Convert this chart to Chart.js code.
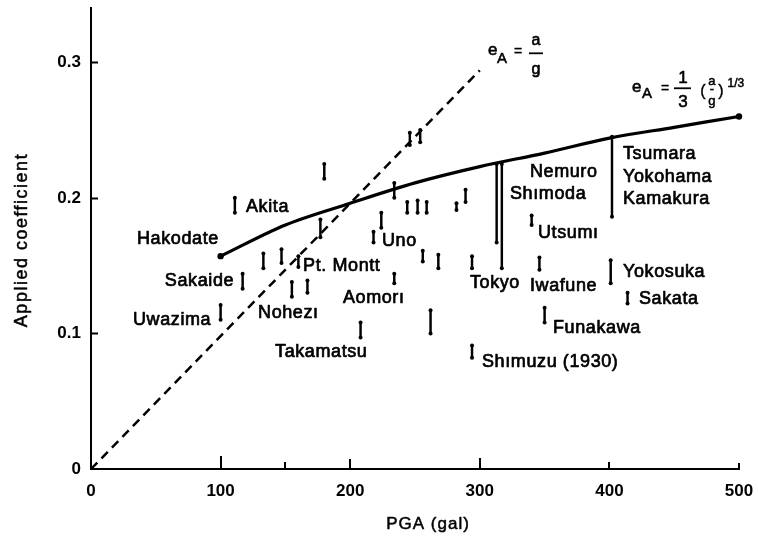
<!DOCTYPE html>
<html>
<head>
<meta charset="utf-8">
<script src="https://cdn.jsdelivr.net/npm/chart.js@4.4.1/dist/chart.umd.min.js"></script>
<style>
  html, body { margin: 0; padding: 0; background: #fff; }
  #wrap { width: 758px; height: 545px; position: relative; }
</style>
</head>
<body>
<div id="wrap"><canvas id="c" width="758" height="545"></canvas></div>
<script>
// ---- data ----
const xTickValues = [0, 100, 200, 300, 400, 500];
const xTickLabels = ['0', '100', '200', '300', '400', '500'];
const yTickValues = [0, 0.1, 0.2, 0.3];
const yTickLabels = ['0', '0.1', '0.2', '0.3'];

// solid curve e_A = 1/3 (a/g)^(1/3)
const curveX = [100, 150, 200, 250, 300, 350, 400, 450, 500];
const curveY = [0.157, 0.180, 0.196, 0.211, 0.223, 0.233, 0.244, 0.252, 0.260];

// dashed line e_A = a/g
const dashX = [0, 300];
const dashY = [0, 0.294];

// observed ranges (vertical bars): PGA, low, high
const rangeX  = [100, 111, 117, 133, 147, 155, 160, 167, 177, 180, 208, 218, 224, 234, 234, 244, 246, 252, 254, 256, 259, 262, 268, 282, 289, 294, 294, 313, 317, 340, 346, 350, 401, 402, 414];
const rangeLo = [0.110, 0.189, 0.133, 0.148, 0.152, 0.127, 0.149, 0.130, 0.171, 0.214, 0.097, 0.167, 0.178, 0.137, 0.200, 0.189, 0.239, 0.189, 0.241, 0.153, 0.189, 0.100, 0.148, 0.191, 0.197, 0.148, 0.082, 0.167, 0.148, 0.180, 0.147, 0.108, 0.137, 0.186, 0.122];
const rangeHi = [0.121, 0.200, 0.144, 0.159, 0.162, 0.138, 0.157, 0.139, 0.184, 0.225, 0.108, 0.175, 0.189, 0.144, 0.211, 0.197, 0.248, 0.198, 0.250, 0.161, 0.197, 0.117, 0.158, 0.196, 0.206, 0.157, 0.091, 0.225, 0.225, 0.187, 0.156, 0.119, 0.154, 0.245, 0.130];

// site names and their anchor (data coordinates: left edge, vertical middle)
const siteNames = ['Hakodate', 'Akita', 'Sakaide', 'Uwazima', 'Pt. Montt', 'Nohezı', 'Uno', 'Aomorı', 'Takamatsu', 'Tokyo', 'Iwafune', 'Shımuzu (1930)', 'Funakawa', 'Utsumı', 'Yokosuka', 'Sakata', 'Nemuro', 'Shımoda', 'Tsumara', 'Yokohama', 'Kamakura'];
const siteX = [35.5, 119.6, 57, 32.4, 163.6, 128.9, 224.5, 194.4, 142, 292.4, 338.7, 301.7, 356.5, 344.9, 410.5, 422.8, 338.7, 323.3, 410.5, 410.5, 410.5];
const siteY = [0.1695, 0.193, 0.139, 0.110, 0.150, 0.115, 0.168, 0.126, 0.086, 0.137, 0.135, 0.079, 0.104, 0.174, 0.145, 0.125, 0.219, 0.203, 0.232, 0.215, 0.199];

// formula anchors (data coordinates)
const formula1At = [306.3, 0.3088];
const formula2At = [417.4, 0.2808];

const xTitle = 'PGA (gal)';
const yTitle = 'Applied coefficient';

// ---- build datasets ----
const FONT = '"Liberation Sans", Arial, sans-serif';
Chart.defaults.font.family = FONT;
Chart.defaults.color = '#000';

const rangeData = rangeX.map((x, i) => ({ x: x, y: [rangeLo[i], rangeHi[i]] }));
const capData = [];
rangeX.forEach((x, i) => { capData.push({ x: x, y: rangeLo[i] }); capData.push({ x: x, y: rangeHi[i] }); });
const curveData = curveX.map((x, i) => ({ x: x, y: curveY[i] }));
const dashData = dashX.map((x, i) => ({ x: x, y: dashY[i] }));

function heavyText(ctx, t, x, y, w) {
  ctx.lineWidth = w;
  ctx.strokeText(t, x, y);
  ctx.fillText(t, x, y);
}

const overlay = {
  id: 'overlay',
  afterDraw(chart) {
    const { ctx, scales: { x, y }, chartArea } = chart;
    ctx.save();
    ctx.strokeStyle = '#000';
    ctx.fillStyle = '#000';
    ctx.lineJoin = 'round';
    // inward tick marks
    ctx.lineWidth = 2;
    [0.1, 0.2, 0.3].forEach(v => {
      const py = Math.round(y.getPixelForValue(v)) + 0.5;
      ctx.beginPath(); ctx.moveTo(chartArea.left, py); ctx.lineTo(chartArea.left + 7, py); ctx.stroke();
    });
    const xt = { 100: 13, 150: 7, 200: 10, 300: 11, 400: 7, 500: 6 };
    Object.keys(xt).forEach(k => {
      const px = Math.round(x.getPixelForValue(+k));
      ctx.beginPath(); ctx.moveTo(px, chartArea.bottom); ctx.lineTo(px, chartArea.bottom - xt[k]); ctx.stroke();
    });

    // site labels
    ctx.font = '18px ' + FONT;
    ctx.letterSpacing = '0.6px';
    ctx.textAlign = 'left';
    ctx.textBaseline = 'middle';
    siteNames.forEach((t, i) => heavyText(ctx, t, x.getPixelForValue(siteX[i]), y.getPixelForValue(siteY[i]), 0.7));

    // formula 1: e_A = a/g
    ctx.letterSpacing = '0px';
    ctx.textBaseline = 'alphabetic';
    let ax = x.getPixelForValue(formula1At[0]), ay = y.getPixelForValue(formula1At[1]);
    ctx.font = '17px ' + FONT; heavyText(ctx, 'e', ax, ay + 5, 0.6);
    ctx.font = '15px ' + FONT; heavyText(ctx, 'A', ax + 9, ay + 13, 0.6);
    ctx.font = '14px ' + FONT; heavyText(ctx, '=', ax + 26, ay + 6, 0.4);
    ctx.textAlign = 'center';
    ctx.font = '16px ' + FONT; heavyText(ctx, 'a', ax + 48, ay - 5, 0.6);
    ctx.lineWidth = 1.8;
    ctx.beginPath(); ctx.moveTo(ax + 41, ay + 3); ctx.lineTo(ax + 55, ay + 3); ctx.stroke();
    heavyText(ctx, 'g', ax + 48, ay + 24, 0.6);

    // formula 2: e_A = 1/3 (a/g)^(1/3)
    ctx.textAlign = 'left';
    ax = x.getPixelForValue(formula2At[0]); ay = y.getPixelForValue(formula2At[1]);
    ctx.font = '17px ' + FONT; heavyText(ctx, 'e', ax, ay + 4, 0.6);
    ctx.font = '15px ' + FONT; heavyText(ctx, 'A', ax + 10, ay + 10, 0.6);
    ctx.font = '14px ' + FONT; heavyText(ctx, '=', ax + 29, ay + 5, 0.4);
    ctx.textAlign = 'center';
    ctx.font = '17px ' + FONT;
    heavyText(ctx, '1', ax + 51, ay - 5, 0.6);
    ctx.lineWidth = 1.8;
    ctx.beginPath(); ctx.moveTo(ax + 42, ay + 0); ctx.lineTo(ax + 59, ay + 0); ctx.stroke();
    heavyText(ctx, '3', ax + 51, ay + 19, 0.6);
    ctx.font = '16px ' + FONT;
    heavyText(ctx, '(', ax + 71, ay + 8, 0.4);
    heavyText(ctx, ')', ax + 89, ay + 8, 0.4);
    ctx.font = '13px ' + FONT;
    heavyText(ctx, 'a', ax + 80, ay - 3, 0.5);
    heavyText(ctx, '-', ax + 80, ay + 5, 0.5);
    heavyText(ctx, 'g', ax + 80, ay + 17, 0.5);
    ctx.font = '12px ' + FONT;
    heavyText(ctx, '1/3', ax + 104, ay - 1, 0.5);

    // axis titles
    ctx.font = '18px ' + FONT;
    ctx.letterSpacing = '1.5px';
    ctx.textAlign = 'center';
    ctx.textBaseline = 'middle';
    ctx.save();
    ctx.translate(22, 240);
    ctx.rotate(-Math.PI / 2);
    heavyText(ctx, yTitle, 0, 0, 0.5);
    ctx.restore();
    ctx.font = '17px ' + FONT;
    ctx.letterSpacing = '1px';
    heavyText(ctx, xTitle, 428, 524, 0.5);
    ctx.restore();
  }
};

new Chart(document.getElementById('c'), {
  type: 'line',
  data: {
    datasets: [
      {
        type: 'line', data: dashData, borderColor: '#000', borderWidth: 2.5,
        borderDash: [9, 6], pointRadius: 0, fill: false, tension: 0
      },
      {
        type: 'line', data: curveData, borderColor: '#000', borderWidth: 3.2,
        pointRadius: ctx => (ctx.dataIndex === 0 || ctx.dataIndex === curveX.length - 1) ? 3.2 : 0,
        pointBackgroundColor: '#000', pointBorderWidth: 0,
        cubicInterpolationMode: 'monotone', fill: false
      },
      {
        type: 'bar', data: rangeData, backgroundColor: '#000', borderWidth: 0,
        barThickness: 1.8, grouped: false
      },
      {
        type: 'scatter', data: capData, pointRadius: 2, pointBackgroundColor: '#000',
        pointBorderWidth: 0, showLine: false
      }
    ]
  },
  options: {
    responsive: false,
    animation: false,
    devicePixelRatio: 1,
    clip: false,
    layout: { padding: { top: 8, right: 19, left: 0, bottom: 0 } },
    plugins: { legend: { display: false }, tooltip: { enabled: false } },
    events: [],
    scales: {
      x: {
        type: 'linear', min: 0, max: 500, offset: false,
        grid: { display: false, drawTicks: false, offset: false },
        border: { display: true, color: '#000', width: 2 },
        afterBuildTicks: s => { s.ticks = xTickValues.map(v => ({ value: v })); },
        afterFit: s => { s.height = 76; s.paddingLeft = 0; s.paddingRight = 0; },
        ticks: {
          padding: 12, maxRotation: 0, autoSkip: false,
          font: { size: 17, weight: 'bold' }, color: '#000',
          callback: (v) => { const i = xTickValues.indexOf(v); return i >= 0 ? xTickLabels[i] : ''; }
        }
      },
      y: {
        type: 'linear', min: 0, max: 0.34,
        grid: { display: false, drawTicks: false },
        border: { display: true, color: '#000', width: 2 },
        afterBuildTicks: s => { s.ticks = yTickValues.map(v => ({ value: v })); },
        afterFit: s => { s.width = 91; s.paddingTop = 0; s.paddingBottom = 0; },
        ticks: {
          padding: 10, autoSkip: false,
          font: { size: 17, weight: 'bold' }, color: '#000',
          callback: (v) => { const i = yTickValues.findIndex(t => Math.abs(t - v) < 1e-9); return i >= 0 ? yTickLabels[i] : ''; }
        }
      }
    }
  },
  plugins: [overlay]
});
</script>
</body>
</html>
